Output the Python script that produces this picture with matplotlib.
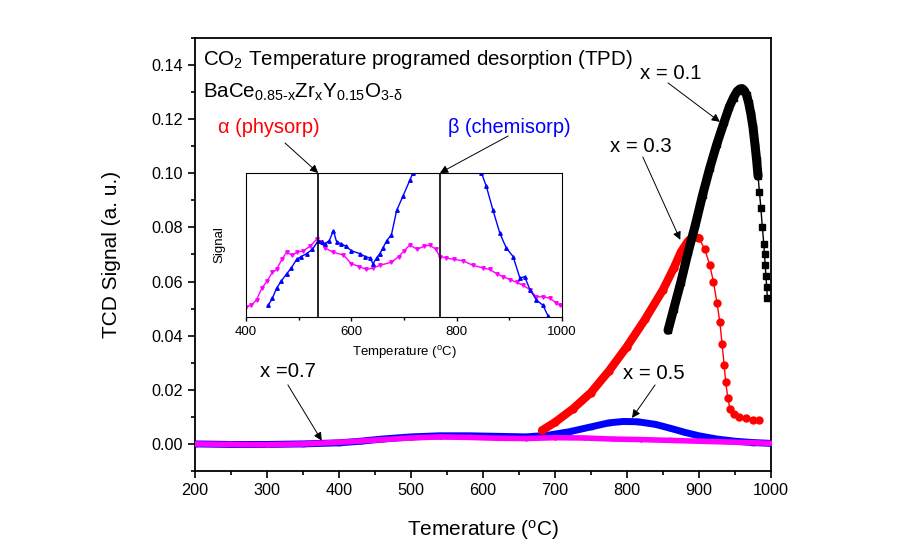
import numpy as np
import matplotlib
matplotlib.use('Agg')
import matplotlib.pyplot as plt
from matplotlib.ticker import MultipleLocator, FormatStrFormatter

plt.rcParams['font.family'] = ['Liberation Sans', 'DejaVu Sans']
plt.rcParams['mathtext.fontset'] = 'custom'
plt.rcParams['mathtext.rm'] = 'Liberation Sans'
plt.rcParams['mathtext.it'] = 'Liberation Sans:italic'

# x = 0.1 (black squares)
T_01 = [857, 865, 875, 885, 895, 905, 915, 925, 935, 942, 948, 953, 957, 960,
        963, 966, 969, 972, 975, 978, 980, 982, 984, 986, 988, 990, 991, 992,
        993, 994, 995]
S_01 = [0.042, 0.050, 0.060, 0.071, 0.081, 0.092, 0.102, 0.111, 0.119, 0.1245,
        0.128, 0.1303, 0.1312, 0.1313, 0.1305, 0.129, 0.126, 0.122, 0.117,
        0.110, 0.105, 0.099, 0.093, 0.087, 0.080, 0.074, 0.070, 0.066, 0.062,
        0.058, 0.054]

# x = 0.3 (red circles)
T_03 = [682, 700, 725, 750, 775, 800, 825, 850, 865, 875, 885, 892, 900, 908,
        915, 920, 925, 929, 932, 935, 937, 940, 943, 948, 955, 965, 975, 983]
S_03 = [0.005, 0.008, 0.013, 0.019, 0.027, 0.036, 0.046, 0.057, 0.065, 0.071,
        0.075, 0.0765, 0.076, 0.072, 0.066, 0.060, 0.052, 0.045, 0.037, 0.029,
        0.023, 0.017, 0.013, 0.011, 0.010, 0.0095, 0.009, 0.0088]

# x = 0.5 (blue)
T_05 = [200, 250, 300, 350, 400, 430, 460, 500, 540, 580, 620, 660, 690, 720,
        750, 775, 795, 815, 840, 860, 880, 900, 925, 950, 975, 1000]
S_05 = [0.0000, -0.0002, -0.0002, 0.0000, 0.0004, 0.0010, 0.0018, 0.0026,
        0.0030, 0.0030, 0.0028, 0.0026, 0.0032, 0.0045, 0.0063, 0.0078, 0.0083,
        0.0082, 0.0072, 0.0058, 0.0043, 0.0030, 0.0018, 0.0010, 0.0005, 0.0002]

# x = 0.7 (magenta)
T_07 = [200, 250, 300, 350, 400, 450, 500, 540, 580, 620, 660, 700, 740, 780,
        820, 860, 900, 940, 980, 1000]
S_07 = [0.0000, -0.0002, -0.0003, 0.0000, 0.0006, 0.0014, 0.0022, 0.0026,
        0.0024, 0.0021, 0.0020, 0.0023, 0.0022, 0.0018, 0.0016, 0.0013, 0.0010,
        0.0007, 0.0004, 0.0002]

# inset, relative signal
TI_07 = [400, 410, 420, 430, 440, 450, 458, 468, 477, 487, 497, 509, 521, 534,
         542, 550, 565, 585, 600, 615, 628, 641, 655, 676, 690, 700, 711, 725,
         737, 749, 760, 768, 780, 795, 812, 830, 850, 863, 876, 888, 901, 914,
         926, 939, 951, 964, 977, 988, 996, 1000]
SI_07 = [0.07, 0.08, 0.12, 0.20, 0.25, 0.31, 0.33, 0.40, 0.45, 0.43, 0.45, 0.46,
         0.49, 0.54, 0.52, 0.48, 0.45, 0.43, 0.37, 0.35, 0.33, 0.34, 0.36, 0.38,
         0.42, 0.46, 0.50, 0.47, 0.49, 0.50, 0.47, 0.42, 0.41, 0.40, 0.39, 0.36,
         0.34, 0.33, 0.30, 0.28, 0.26, 0.24, 0.22, 0.19, 0.14, 0.14, 0.13, 0.10,
         0.08, 0.08]
TI_05 = [442, 450, 458, 467, 477, 486, 496, 505, 515, 526, 537, 545, 550, 558,
         566, 572, 580, 590, 600, 616, 626, 635, 641, 648, 654, 660, 667, 676,
         686, 698, 711, 717, 780, 847, 856, 869, 882, 894, 907, 920, 929, 939,
         951, 964, 973]
SI_05 = [0.08, 0.13, 0.20, 0.25, 0.30, 0.34, 0.40, 0.42, 0.44, 0.47, 0.53, 0.52,
         0.51, 0.53, 0.60, 0.52, 0.51, 0.49, 0.46, 0.44, 0.42, 0.41, 0.37, 0.41,
         0.44, 0.48, 0.53, 0.57, 0.74, 0.84, 0.95, 1.00, np.nan, 1.00, 0.91,
         0.74, 0.58, 0.48, 0.42, 0.27, 0.28, 0.19, 0.12, 0.08, 0.01]
ALPHA_T, BETA_T = 537, 768

fig = plt.figure(figsize=(9.16, 5.49), dpi=100)
ax = fig.add_axes([0.2129, 0.1421, 0.6288, 0.7887])

ax.plot(T_05, S_05, color='blue', lw=5, marker='^', ms=3, zorder=2,
        solid_capstyle='round')
ax.plot(T_07, S_07, color='magenta', lw=4, marker='v', ms=3, zorder=3,
        solid_capstyle='round')
ax.plot(T_03, S_03, color='red', lw=1, marker='o', ms=5, zorder=4)
ax.plot(T_03[:13], S_03[:13], color='red', lw=6, zorder=4,
        solid_capstyle='round')
ax.plot(T_01, S_01, color='black', lw=1, marker='s', ms=5, zorder=5)
ax.plot(T_01[:22], S_01[:22], color='black', lw=6.5, zorder=5,
        solid_capstyle='round')

ax.set_xlim(200, 1000)
ax.set_ylim(-0.01, 0.15)
ax.xaxis.set_major_locator(MultipleLocator(100))
ax.xaxis.set_minor_locator(MultipleLocator(50))
ax.yaxis.set_major_locator(MultipleLocator(0.02))
ax.yaxis.set_minor_locator(MultipleLocator(0.01))
ax.yaxis.set_major_formatter(FormatStrFormatter('%.2f'))
ax.tick_params(which='both', direction='out', top=False, right=False,
               labelsize=11.7, width=1.2)
ax.tick_params(which='major', length=5)
ax.tick_params(which='minor', length=3)
for sp in ax.spines.values():
    sp.set_linewidth(1.3)

ax.set_xlabel('Temerature ($^{\\mathrm{o}}$C)', fontsize=15)
ax.set_ylabel('TCD Signal (a. u.)', fontsize=15)
ax.xaxis.set_label_coords(0.5, -0.108)
ax.yaxis.set_label_coords(-0.128, 0.5)

ax.text(211, 0.1419, 'CO$_2$ Temperature programed desorption (TPD)',
        fontsize=14.8, va='center', ha='left')
ax.text(211, 0.130,
        'BaCe$_\\text{0.85-x}$Zr$_\\text{x}$Y$_\\text{0.15}$O$_\\text{3-δ}$',
        fontsize=14.8, va='center', ha='left')
ax.text(232, 0.1168, 'α (physorp)', color='red', fontsize=14.4, va='center')
ax.text(551, 0.1168, 'β (chemisorp)', color='blue', fontsize=14.4, va='center')

arrow = dict(arrowstyle='-|>', color='black', lw=0.7, mutation_scale=12,
             shrinkA=0, shrinkB=0)
labels = [('x = 0.1', (818, 0.137), (857, 0.1334), (929, 0.119)),
          ('x = 0.3', (776, 0.110), (822, 0.106), (874, 0.0754)),
          ('x = 0.5', (794, 0.0262), (839, 0.0218), (807, 0.0096)),
          ('x =0.7', (290, 0.0266), (329, 0.0218), (376, 0.0012))]
for txt, pos, start, tip in labels:
    ax.text(pos[0], pos[1], txt, fontsize=14.7, va='center')
    ax.annotate('', xy=tip, xytext=start, arrowprops=arrow)

# inset
axins = fig.add_axes([0.2686, 0.4226, 0.3450, 0.2623])
axins.plot(TI_07, SI_07, color='magenta', lw=1, marker='v', ms=2.5)
axins.plot(TI_05, SI_05, color='blue', lw=1, marker='^', ms=2.5)
axins.axvline(ALPHA_T, color='black', lw=1.2)
axins.axvline(BETA_T, color='black', lw=1.2)
axins.set_xlim(400, 1000)
axins.set_ylim(0, 1)
axins.xaxis.set_major_locator(MultipleLocator(200))
axins.xaxis.set_minor_locator(MultipleLocator(100))
axins.set_yticks([])
axins.tick_params(which='both', direction='out', labelsize=9.5, width=1)
axins.tick_params(which='major', length=3)
axins.tick_params(which='minor', length=2)
axins.set_xlabel('Temperature ($^{\\mathrm{o}}$C)', fontsize=9.5)
axins.set_ylabel('Signal', fontsize=9.5)
axins.xaxis.set_label_coords(0.5, -0.19)
axins.yaxis.set_label_coords(-0.066, 0.5)

ax.annotate('', xy=(ALPHA_T, 1.0), xycoords=axins.transData,
            xytext=(325, 0.1112), textcoords='data', arrowprops=arrow)
ax.annotate('', xy=(BETA_T, 1.0), xycoords=axins.transData,
            xytext=(635, 0.1138), textcoords='data', arrowprops=arrow)

fig.savefig('out.png', dpi=100)
